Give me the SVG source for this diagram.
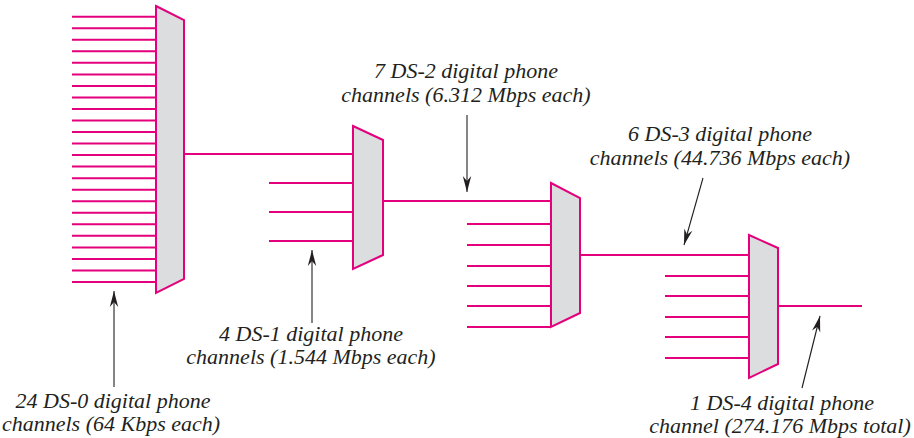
<svg xmlns="http://www.w3.org/2000/svg" width="914" height="438" viewBox="0 0 914 438">
<defs>
<style>
.w{stroke:#E4007C;stroke-width:2;fill:none}
.mux{fill:#DCDDDF;stroke:#E4007C;stroke-width:2;stroke-linejoin:miter}
.ar{stroke:#231F20;stroke-width:1.1;fill:none;marker-end:url(#ah)}
.t{font-family:"Liberation Serif","Times New Roman",serif;font-style:italic;font-size:22px;fill:#231F20;text-anchor:middle}
</style>
<marker id="ah" viewBox="-17 -5 18 10" refX="0" refY="0" markerWidth="18" markerHeight="10" markerUnits="userSpaceOnUse" orient="auto">
<path d="M0,0 L-16,-4.2 L-11,0 L-16,4.2 Z" fill="#231F20"/>
</marker>
</defs>
<rect width="914" height="438" fill="#fff"/>
<g id="connectors">
<g id="ds0-inputs">
<path class="w" d="M72,16.7H156M72,28.2H156M72,39.8H156M72,51.3H156M72,62.8H156M72,74.4H156M72,85.9H156M72,97.4H156M72,109H156M72,120.5H156M72,132H156M72,143.6H156M72,155.1H156M72,166.6H156M72,178.2H156M72,189.7H156M72,201.2H156M72,212.8H156M72,224.3H156M72,235.8H156M72,247.4H156M72,258.9H156M72,270.4H156M72,282H156"/>
</g>
<path class="w" d="M184,154H353"/>
<path class="w" d="M269,183H353M269,212H353M269,241H353"/>
<path class="w" d="M383,201H551"/>
<path class="w" d="M467,224H551M467,245H551M467,266H551M467,286H551M467,306H551M467,327H551"/>
<path class="w" d="M580,255H749"/>
<path class="w" d="M665,276H749M665,296H749M665,317H749M665,337H749M665,358H749"/>
<path class="w" d="M778,306H862"/>
<g id="pointers">
<path class="ar" d="M114,387L114,291"/>
<path class="ar" d="M312,323L312,250"/>
<path class="ar" d="M467,115L467,192"/>
<path class="ar" d="M703,178L684,245"/>
<path class="ar" d="M802,388L820,316"/>
</g>
</g>
<g id="mux1"><polygon class="mux" points="156,6 184,20 184,279 156,293"/></g>
<g id="mux2"><polygon class="mux" points="353,126 383,140 383,255 353,269"/></g>
<g id="mux3"><polygon class="mux" points="551,183 580,198 580,313 551,327"/></g>
<g id="mux4"><polygon class="mux" points="749,235 778,248 778,364 749,378"/></g>
<g id="label-ds0"><text class="t" x="113" y="408">24 DS-0 digital phone</text><text class="t" x="111" y="431">channels (64 Kbps each)</text></g>
<g id="label-ds1"><text class="t" x="311" y="341">4 DS-1 digital phone</text><text class="t" x="311" y="364">channels (1.544 Mbps each)</text></g>
<g id="label-ds2"><text class="t" x="466" y="78">7 DS-2 digital phone</text><text class="t" x="466" y="102">channels (6.312 Mbps each)</text></g>
<g id="label-ds3"><text class="t" x="720" y="141">6 DS-3 digital phone</text><text class="t" x="720" y="165">channels (44.736 Mbps each)</text></g>
<g id="label-ds4"><text class="t" x="782" y="410">1 DS-4 digital phone</text><text class="t" x="780" y="433">channel (274.176 Mbps total)</text></g>
</svg>
